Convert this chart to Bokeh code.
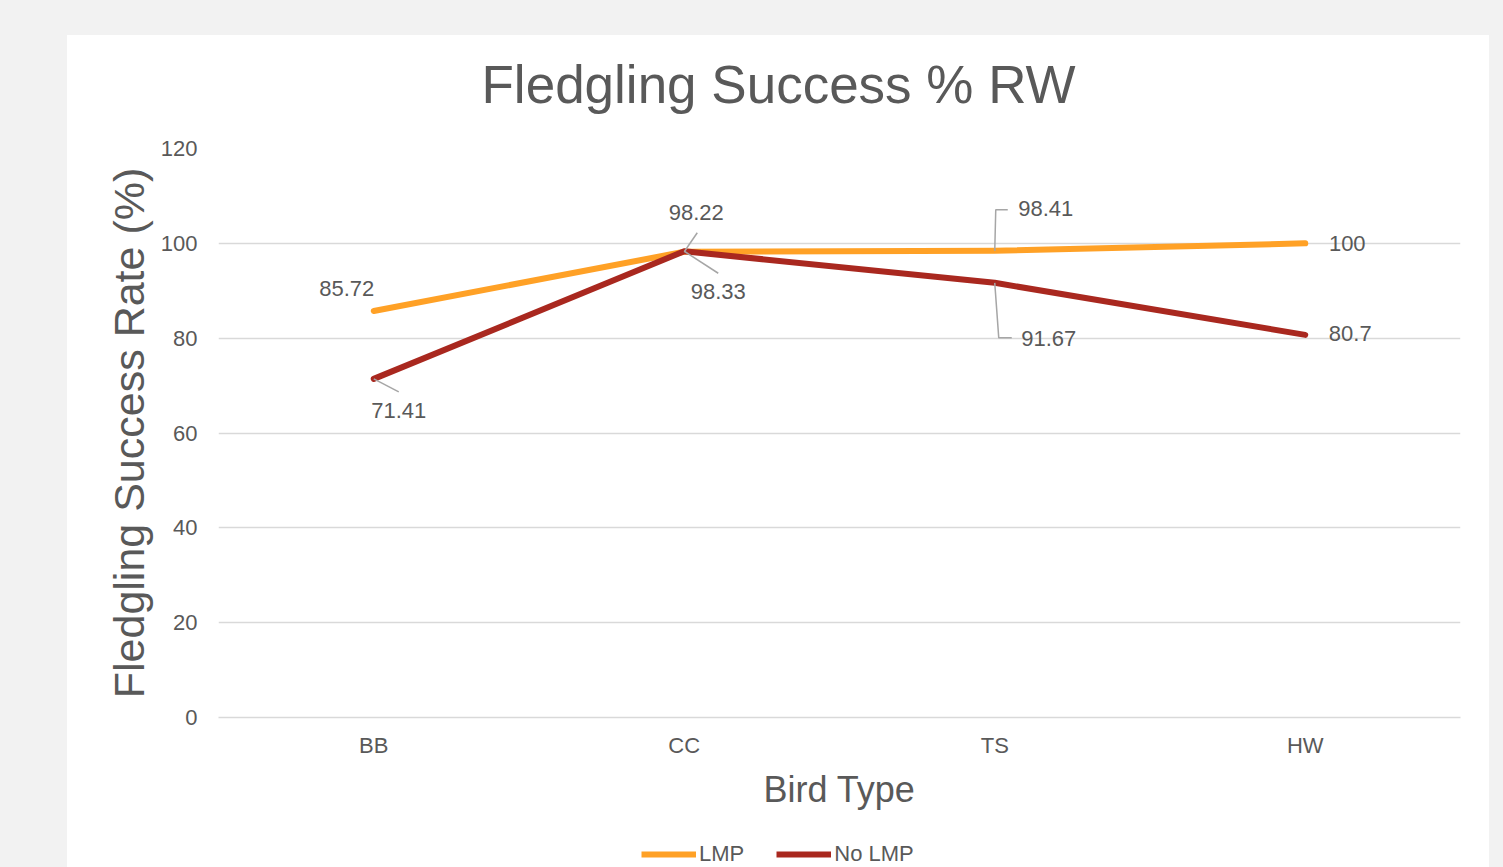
from bokeh.plotting import figure
from bokeh.models import FactorRange, Legend, LegendItem, Range1d, ColumnDataSource, Title
from bokeh.layouts import column
from bokeh.embed import file_html
from bokeh.resources import INLINE
from bokeh.core.properties import value

# ---- data ----
categories = ["BB", "CC", "TS", "HW"]
lmp = [85.72, 98.22, 98.41, 100]
no_lmp = [71.41, 98.33, 91.67, 80.7]
lmp_labels = ["85.72", "98.22", "98.41", "100"]
no_lmp_labels = ["71.41", "98.33", "91.67", "80.7"]
y_ticks = [0, 20, 40, 60, 80, 100, 120]
series_names = ["LMP", "No LMP"]

TXT = "#595959"
FONT = "Liberation Sans"
ORANGE = "#FFA126"
RED = "#A9281F"
GRID = "#d9d9d9"
LEADER = "#a6a6a6"

FW, FH = 1422, 792
ML, MR, MT, MB = 151, 29, 113, 110
PX_X = (FW - ML - MR) / len(categories)
PX_Y = (FH - MT - MB) / 120.0

p = figure(x_range=FactorRange(*categories, range_padding=0), y_range=Range1d(0, 120),
           width=FW, height=FH, output_backend="svg", toolbar_location=None,
           min_border_left=ML, min_border_right=MR, min_border_top=MT, min_border_bottom=MB,
           background_fill_color="white", border_fill_color="white", outline_line_color=None)

# real title (outermost) with a spacer title between it and the frame
p.title.text = "Fledgling Success % RW"
p.title.text_font = FONT
p.title.text_font_size = "53px"
p.title.text_font_style = "normal"
p.title.text_color = TXT
p.title.align = "left"
p.title.offset = 263
p.title.standoff = 0
p.add_layout(Title(text=" ", text_font_size="10px", standoff=22), "above")

p.xgrid.grid_line_color = None
p.ygrid.grid_line_color = GRID
p.ygrid.grid_line_width = 1.5
p.yaxis.ticker = y_ticks
p.yaxis.axis_line_color = None
p.xaxis.axis_line_color = GRID
p.xaxis.axis_line_width = 1.5
for ax in (p.xaxis[0], p.yaxis[0]):
    ax.major_tick_line_color = None
    ax.minor_tick_line_color = None
    ax.major_label_text_font = FONT
    ax.major_label_text_font_size = "22px"
    ax.major_label_text_color = TXT
    ax.axis_label_text_font = FONT
    ax.axis_label_text_color = TXT
    ax.axis_label_text_font_style = "normal"
p.yaxis.major_label_standoff = 15
p.xaxis.major_label_standoff = 9
p.yaxis.axis_label = "Fledgling Success Rate (%)"
p.yaxis.axis_label_text_font_size = "43px"
p.yaxis.axis_label_standoff = 5
p.xaxis.axis_label = "Bird Type"
p.xaxis.axis_label_text_font_size = "36px"
p.xaxis.axis_label_standoff = 8

src = ColumnDataSource(dict(x=categories, lmp=lmp, no=no_lmp))
p.line("x", "lmp", source=src, line_color=ORANGE, line_width=6, line_cap="round", line_join="round")
p.line("x", "no", source=src, line_color=RED, line_width=6, line_cap="round", line_join="round")

# leader lines (pixel offsets converted into data units)
def pt(i, v, dx, dy):
    return (i + 0.5 + dx / PX_X, v - dy / PX_Y)

leaders = [
    [(0, no_lmp[0], 0, 0), (0, no_lmp[0], 25, 13)],
    [(1, lmp[1], 0, 0), (1, lmp[1], 13, -19)],
    [(1, no_lmp[1], 0, 0), (1, no_lmp[1], 34, 22)],
    [(2, lmp[2], 0, 0), (2, lmp[2], 1, -41), (2, lmp[2], 13, -41)],
    [(2, no_lmp[2], 0, 0), (2, no_lmp[2], 4, 55), (2, no_lmp[2], 17, 55)],
]
xs, ys = [], []
for seg in leaders:
    pts = [pt(*s) for s in seg]
    xs.append([q[0] for q in pts])
    ys.append([q[1] for q in pts])
p.multi_line(xs, ys, line_color=LEADER, line_width=1.5)

lmp_off = [(-27, -23), (12, -39), (51, -42), (42, 0)]
no_off = [(25, 32), (34, 40), (54, 56), (45, -1)]
p.text(x=categories, y=lmp, text=lmp_labels, x_offset=[o[0] for o in lmp_off], y_offset=[o[1] for o in lmp_off],
       text_font=value(FONT), text_font_size="22px", text_color=TXT, text_align="center", text_baseline="middle")
p.text(x=categories, y=no_lmp, text=no_lmp_labels, x_offset=[o[0] for o in no_off], y_offset=[o[1] for o in no_off],
       text_font=value(FONT), text_font_size="22px", text_color=TXT, text_align="center", text_baseline="middle")

# legend strip below the chart (separate small figure so the legend is not clipped);
# its series are the same data, kept out of view by the strip's y range
lg = figure(width=FW, height=40, output_backend="svg", toolbar_location=None,
            x_range=p.x_range, y_range=Range1d(1000, 1001),
            min_border_left=0, min_border_right=0, min_border_top=0, min_border_bottom=0,
            background_fill_color="white", border_fill_color="white", outline_line_color=None)
lg.axis.visible = False
lg.grid.grid_line_color = None
lr1 = lg.line("x", "lmp", source=src, line_color=ORANGE, line_width=6)
lr2 = lg.line("x", "no", source=src, line_color=RED, line_width=6)
legend = Legend(items=[LegendItem(label=series_names[0], renderers=[lr1]),
                       LegendItem(label=series_names[1], renderers=[lr2])],
                orientation="horizontal", location=(641 - 218, 0), padding=0, margin=0, spacing=32,
                glyph_width=55, glyph_height=20, label_standoff=3, label_text_font=FONT,
                label_text_font_size="22px", label_text_color=TXT, border_line_color=None,
                background_fill_alpha=0)
lg.add_layout(legend, "center")

inner = column(p, lg, spacing=0, styles={"background-color": "white"})
layout = column(inner, width=1503, height=867,
                styles={"background-color": "#f2f2f2", "padding-left": "67px", "padding-top": "35px"})

open("out.html", "w").write(file_html(layout, INLINE))
